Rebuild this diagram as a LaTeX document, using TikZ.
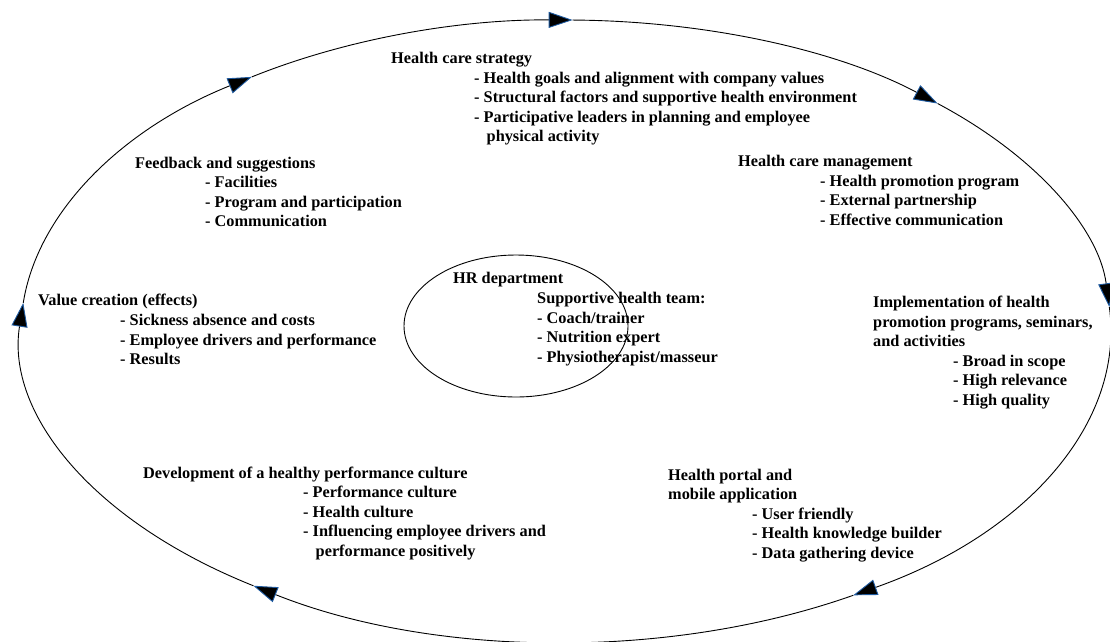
\documentclass[tikz,border=0pt]{standalone}
\usepackage{fontspec}
\setmainfont{Liberation Serif}
\usetikzlibrary{arrows.meta}
\definecolor{tipblue}{RGB}{30,90,160}

\begin{document}
\begin{tikzpicture}[x=1pt,y=1pt,
    txt/.style={anchor=base west,inner sep=0pt,align=left,font=\fontsize{16.3}{19.5}\selectfont\bfseries},
    cyc/.style={line width=0.9pt,-{Triangle[length=24pt,width=16pt,color=tipblue,fill=black]}}]
  \useasboundingbox (0,0) rectangle (1110,-641);
  % outer cycle, clockwise, one arrow per stage
  \coordinate (c) at (566,-331);
  \foreach \a/\b in {89.3/47,47/4.4,4.4/-58.2,-58.2/-125,-125/-185.2,-185.2/-234.8,-234.8/-270.7}
    \draw[cyc] (c) ++(\a:545pt and 311pt) arc[start angle=\a,end angle=\b,x radius=545pt,y radius=311pt];
  % HR in the middle (multi-line nodes sit on their last baseline)
  \draw[line width=0.9pt] (516,-326) ellipse [x radius=112pt,y radius=71pt];
  \node[txt] (hr) at (453,-283.5) {HR department};
  \node[txt] (hrlist) at (537,-362) {Supportive health team:\\- Coach/trainer\\- Nutrition expert\\- Physiotherapist/masseur};
  % stages
  \node[txt] (strat) at (391,-63) {Health care strategy};
  \node[txt] (stratlist) at (474,-141.5) {- Health goals and alignment with company values\\- Structural factors and supportive health environment\\- Participative leaders in planning and employee\\\hspace*{12.5pt}physical activity};
  \node[txt] (mgmt) at (738,-166) {Health care management};
  \node[txt] (mgmtlist) at (820,-225) {- Health promotion program\\- External partnership\\- Effective communication};
  \node[txt] (impl) at (873,-346.5) {Implementation of health\\promotion programs, seminars,\\and activities};
  \node[txt] (impllist) at (953,-405) {- Broad in scope\\- High relevance\\- High quality};
  \node[txt] (portal) at (668,-499.5) {Health portal and\\mobile application};
  \node[txt] (portallist) at (752,-558) {- User friendly\\- Health knowledge builder\\- Data gathering device};
  \node[txt] (devel) at (143,-478) {Development of a healthy performance culture};
  \node[txt] (devellist) at (303,-556) {- Performance culture\\- Health culture\\- Influencing employee drivers and\\\hspace*{12.5pt}performance positively};
  \node[txt] (value) at (38,-305) {Value creation (effects)};
  \node[txt] (valuelist) at (120,-364.5) {- Sickness absence and costs\\- Employee drivers and performance\\- Results};
  \node[txt] (feed) at (135,-168) {Feedback and suggestions};
  \node[txt] (feedlist) at (205,-226.5) {- Facilities\\- Program and participation\\- Communication};
\end{tikzpicture}
\end{document}
